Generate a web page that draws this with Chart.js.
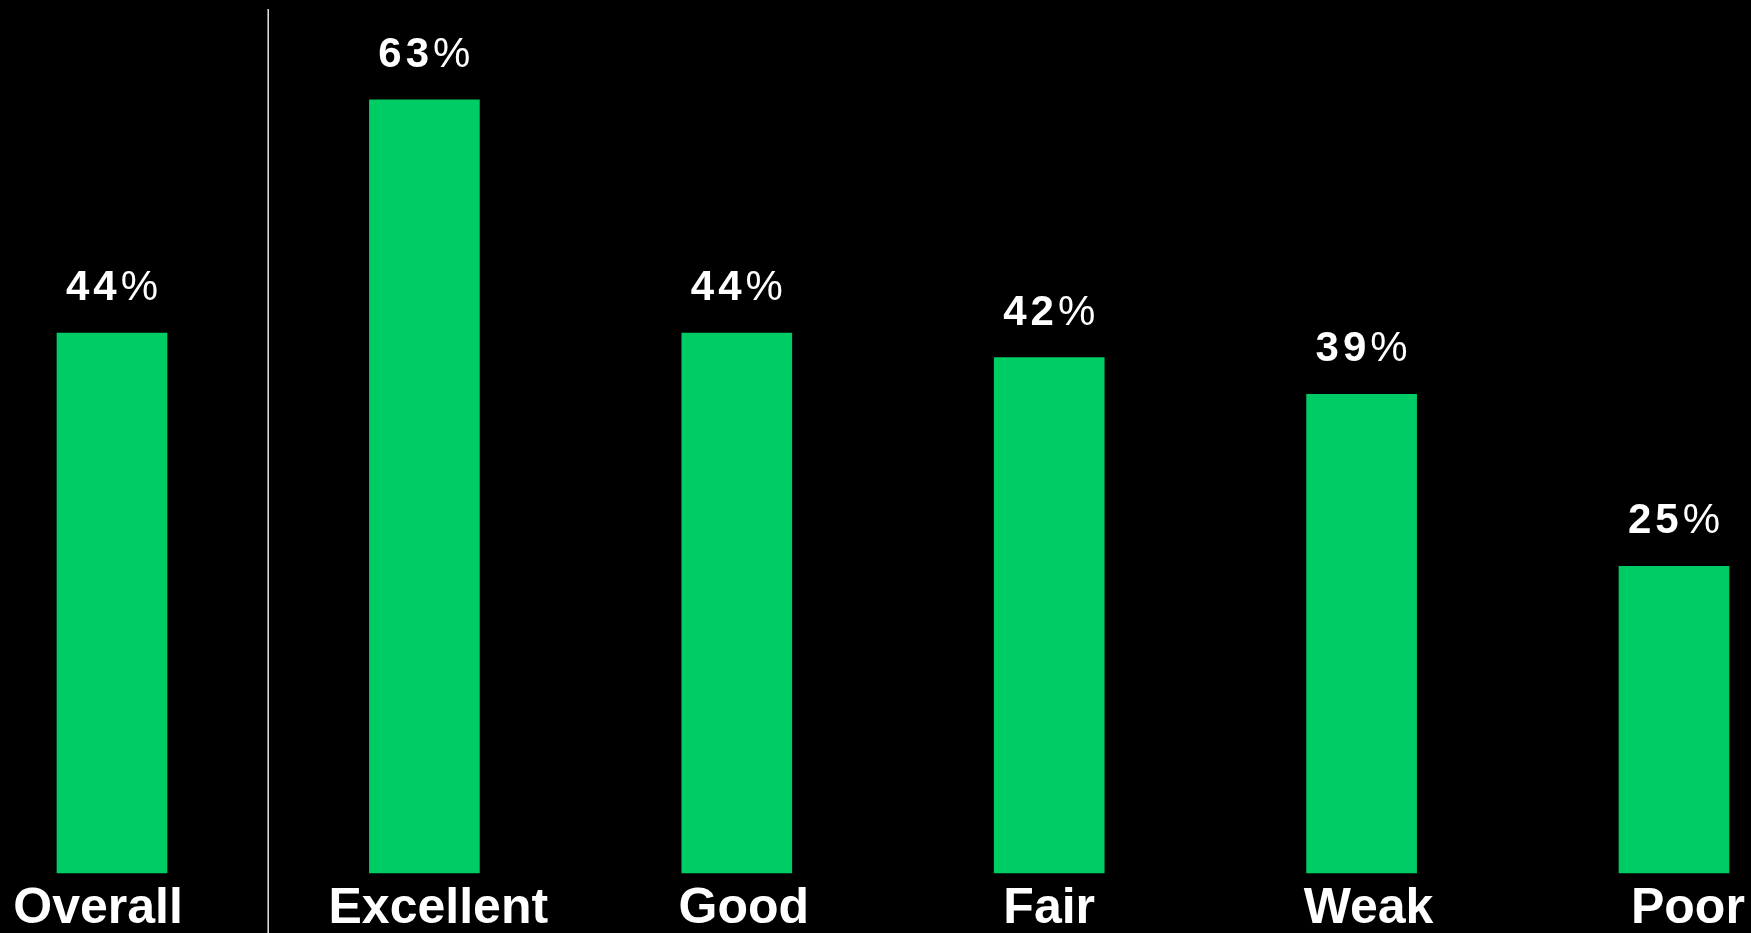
<!DOCTYPE html>
<html>
<head>
<meta charset="utf-8">
<script src="https://cdn.jsdelivr.net/npm/chart.js@4"></script>
<style>
  html, body { margin: 0; padding: 0; background: #000; overflow: hidden; }
  #wrap { width: 1751px; height: 933px; }
</style>
</head>
<body>
<div id="wrap"><canvas id="shareChart"></canvas></div>
<script>
// rating groups and the share in each
var categories = ["Overall  ", "  Excellent", " Good", "Fair", " Weak", "  Poor"];
var shares = [44, 63, 44, 42, 39, 25];
var yMax = 70;

var barColor = "#00cc66";
var fontFace = "'Liberation Sans', Arial, sans-serif";

// white rule between the overall bar and the breakdown
var dividerPlugin = {
  id: "divider",
  afterDatasetsDraw: function(chart) {
    var x = chart.scales.x;
    var ctx = chart.ctx;
    var px = (x.getPixelForValue(0) + x.getPixelForValue(1)) / 2;
    ctx.save();
    ctx.strokeStyle = "#e6e6e6";
    ctx.lineWidth = 1.5;
    ctx.beginPath();
    ctx.moveTo(px, 9);
    ctx.lineTo(px, chart.height);
    ctx.stroke();
    ctx.restore();
  }
};

// percent labels above each bar (digits bold, % sign regular)
var valueLabels = {
  id: "valueLabels",
  afterDatasetsDraw: function(chart) {
    var ctx = chart.ctx;
    var meta = chart.getDatasetMeta(0);
    ctx.save();
    ctx.fillStyle = "#ffffff";
    ctx.textBaseline = "alphabetic";
    ctx.textAlign = "left";
    if ("letterSpacing" in ctx) ctx.letterSpacing = "4px";
    meta.data.forEach(function(bar, i) {
      var num = String(shares[i]);
      ctx.font = "bold 42px " + fontFace;
      var w1 = ctx.measureText(num).width;
      ctx.font = "42px " + fontFace;
      var w2 = ctx.measureText("%").width;
      var left = bar.x - (w1 + w2) / 2 + 2;
      var y = bar.y - 33;
      ctx.font = "bold 42px " + fontFace;
      ctx.fillText(num, left, y);
      ctx.font = "42px " + fontFace;
      ctx.fillText("%", left + w1, y);
    });
    ctx.restore();
  }
};

new Chart("shareChart", {
  type: "bar",
  data: {
    labels: categories,
    datasets: [{
      data: shares,
      backgroundColor: barColor,
      borderWidth: 0,
      barThickness: 110,
      clip: false
    }]
  },
  options: {
    responsive: true,
    maintainAspectRatio: false,
    animation: false,
    layout: {
      padding: { left: 112, right: 77, top: 14, bottom: -12 }
    },
    plugins: {
      legend: { display: false },
      tooltip: { enabled: false }
    },
    scales: {
      x: {
        offset: false,
        grid: { display: false, drawTicks: false },
        border: { display: false },
        ticks: {
          color: "#ffffff",
          padding: 11,
          maxRotation: 0,
          font: { family: fontFace, size: 50, weight: "bold", lineHeight: 1 }
        },
        // labels may hang past the plot edges
        afterFit: function(scale) {
          scale.paddingLeft = 0;
          scale.paddingRight = 0;
        }
      },
      y: {
        display: false,
        min: 0,
        max: yMax
      }
    }
  },
  plugins: [dividerPlugin, valueLabels]
});
</script>
</body>
</html>
